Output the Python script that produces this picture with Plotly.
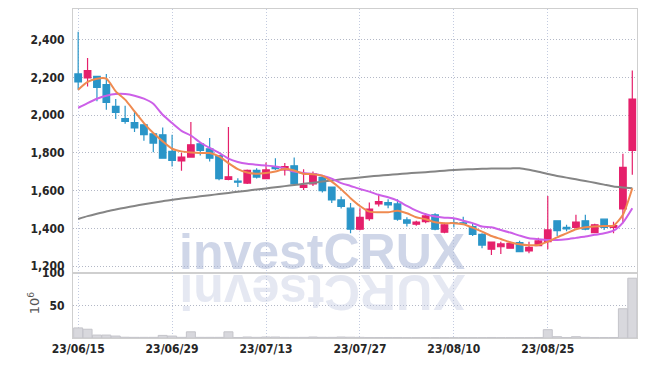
import plotly.graph_objects as go
from plotly.subplots import make_subplots

dates = [
    "2023-06-15", "2023-06-16", "2023-06-19", "2023-06-20", "2023-06-21", "2023-06-22", "2023-06-23",
    "2023-06-26", "2023-06-27", "2023-06-28", "2023-06-29", "2023-06-30",
    "2023-07-03", "2023-07-04", "2023-07-05", "2023-07-06", "2023-07-07",
    "2023-07-10", "2023-07-11", "2023-07-12", "2023-07-13", "2023-07-14",
    "2023-07-17", "2023-07-18", "2023-07-19", "2023-07-20", "2023-07-21",
    "2023-07-24", "2023-07-25", "2023-07-26", "2023-07-27", "2023-07-28", "2023-07-31",
    "2023-08-01", "2023-08-02", "2023-08-03", "2023-08-04",
    "2023-08-07", "2023-08-08", "2023-08-09", "2023-08-10", "2023-08-11",
    "2023-08-14", "2023-08-16", "2023-08-17", "2023-08-18",
    "2023-08-21", "2023-08-22", "2023-08-23", "2023-08-24", "2023-08-25",
    "2023-08-28", "2023-08-29", "2023-08-30", "2023-08-31", "2023-09-01",
    "2023-09-04", "2023-09-05", "2023-09-06", "2023-09-07",
]

opens = [2218, 2197, 2205, 2161, 2046, 1981, 1960, 1949, 1901, 1896,
         1808, 1757, 1778, 1848, 1822, 1785, 1659, 1650, 1640, 1707,
         1664, 1722, 1710, 1732, 1617, 1636, 1670, 1619, 1551, 1507,
         1396, 1452, 1530, 1537, 1530, 1445, 1422, 1436, 1472, 1380,
         1430, 1430, 1410, 1369, 1290, 1303, 1295, 1325, 1281, 1309,
         1330, 1440, 1406, 1405, 1440, 1378, 1449, 1405, 1503, 1813]
highs = [2441, 2303, 2208, 2218, 2085, 2050, 2023, 1951, 1903, 1935,
         1896, 1799, 1963, 1858, 1879, 1787, 1937, 1666, 1712, 1719,
         1749, 1772, 1746, 1776, 1714, 1701, 1678, 1622, 1569, 1534,
         1507, 1537, 1578, 1555, 1555, 1459, 1440, 1480, 1480, 1430,
         1455, 1462, 1425, 1375, 1330, 1330, 1330, 1335, 1330, 1350,
         1572, 1440, 1420, 1472, 1472, 1425, 1452, 1436, 1795, 2236]
lows = [2135, 2152, 2073, 2029, 1979, 1954, 1910, 1864, 1804, 1770,
        1728, 1705, 1776, 1786, 1755, 1655, 1655, 1619, 1635, 1665,
        1660, 1710, 1680, 1625, 1604, 1625, 1590, 1534, 1505, 1374,
        1390, 1441, 1516, 1507, 1440, 1410, 1414, 1428, 1390, 1374,
        1405, 1418, 1360, 1295, 1259, 1265, 1295, 1277, 1268, 1305,
        1290, 1360, 1385, 1400, 1390, 1375, 1392, 1374, 1428, 1684]
closes = [2176, 2236, 2147, 2067, 2014, 1967, 1932, 1896, 1852, 1772,
          1760, 1778, 1843, 1813, 1772, 1663, 1673, 1645, 1707, 1672,
          1710, 1717, 1728, 1636, 1629, 1689, 1600, 1551, 1516, 1396,
          1459, 1502, 1542, 1525, 1449, 1428, 1433, 1466, 1396, 1419,
          1426, 1426, 1369, 1312, 1327, 1318, 1321, 1277, 1300, 1334,
          1392, 1388, 1398, 1433, 1396, 1419, 1405, 1415, 1723, 2085]

ma_short = [2135, 2176, 2193, 2193, 2126, 2082, 2020, 1958, 1905, 1861,
            1822, 1808, 1802, 1799, 1799, 1781, 1746, 1714, 1696, 1689,
            1693, 1701, 1716, 1707, 1689, 1687, 1679, 1648, 1608, 1560,
            1519, 1489, 1486, 1486, 1493, 1480, 1459, 1449, 1433, 1428,
            1428, 1422, 1404, 1383, 1360, 1344, 1327, 1316, 1311, 1312,
            1330, 1353, 1374, 1396, 1406, 1410, 1413, 1415, 1472, 1613]
ma_mid = [2039, 2064, 2087, 2103, 2112, 2112, 2103, 2087, 2060, 2002,
          1958, 1917, 1892, 1855, 1826, 1800, 1770, 1752, 1742, 1737,
          1733, 1728, 1717, 1701, 1693, 1689, 1679, 1664, 1640, 1625,
          1609, 1595, 1578, 1565, 1547, 1519, 1494, 1475, 1463, 1457,
          1454, 1441, 1428, 1410, 1406, 1392, 1378, 1362, 1348, 1343,
          1339, 1339, 1343, 1350, 1357, 1366, 1374, 1388, 1431, 1507]
ma_long = [1450, 1465, 1478, 1490, 1500, 1510, 1519, 1528, 1536, 1544,
           1552, 1558, 1564, 1570, 1576, 1582, 1588, 1594, 1600, 1606,
           1612, 1618, 1624, 1630, 1636, 1642, 1648, 1654, 1660, 1665,
           1670, 1675, 1679, 1683, 1687, 1691, 1695, 1698, 1702, 1706,
           1709, 1712, 1714, 1716, 1717, 1718, 1718, 1719, 1711, 1700,
           1688, 1678, 1669, 1660, 1651, 1642, 1632, 1622, 1617, 1613]

volumes = [15.5, 13.5, 4.5, 4.5, 3, 1.2, 1, 1, 1, 4,
           3, 1, 9.5, 1, 1, 1, 9.5, 0.8, 1.5, 1,
           1.5, 1.5, 1, 1, 1, 1.5, 1, 1, 1.5, 1.2,
           1, 0.8, 0.8, 0.8, 0.8, 0.6, 0.6, 0.6, 0.6, 0.6,
           0.6, 0.6, 0.6, 0.6, 0.8, 0.6, 0.6, 0.6, 0.6, 0.8,
           12.8, 2, 0.8, 2, 1, 0.8, 0.8, 0.8, 45, 92]

tick_idx = [0, 10, 20, 30, 40, 50]
tick_text = ["23/06/15", "23/06/29", "23/07/13", "23/07/27", "23/08/10", "23/08/25"]
price_ticks = [1200, 1400, 1600, 1800, 2000, 2200, 2400]
vol_ticks = [50, 100]
vol_unit = "10<sup>6</sup>"

UP = "#e5206b"
DOWN = "#2a95c8"

fig = make_subplots(rows=2, cols=1, shared_xaxes=True, vertical_spacing=0,
                    row_heights=[0.8024, 0.1976])

fig.add_trace(go.Scatter(x=dates, y=ma_long, mode="lines", line=dict(color="#858585", width=2, shape="spline", smoothing=0.6),
                         showlegend=False, hoverinfo="skip"), row=1, col=1)
fig.add_trace(go.Scatter(x=dates, y=ma_mid, mode="lines", line=dict(color="#cc5fe8", width=2, shape="spline", smoothing=0.6),
                         showlegend=False, hoverinfo="skip"), row=1, col=1)
fig.add_trace(go.Scatter(x=dates, y=ma_short, mode="lines", line=dict(color="#ef8a50", width=2, shape="spline", smoothing=0.6),
                         showlegend=False, hoverinfo="skip"), row=1, col=1)
fig.add_trace(go.Candlestick(x=dates, open=opens, high=highs, low=lows, close=closes,
                             increasing=dict(line=dict(color=UP, width=1.2), fillcolor=UP),
                             decreasing=dict(line=dict(color=DOWN, width=1.2), fillcolor=DOWN),
                             whiskerwidth=0, showlegend=False), row=1, col=1)
fig.add_trace(go.Bar(x=dates, y=volumes, marker=dict(color="#d8d8dd", line=dict(color="#c4c4ca", width=1)),
                     showlegend=False), row=2, col=1)

tickfont = dict(family="DejaVu Sans Condensed", size=12, color="#262626", weight=700)
grid_y = "#b3b8c6"
grid_x = "#c3cbe0"
dots = "1px,2px"

# the page body has an 8px default margin, so the figure is sized to fit the window after that offset
fig.update_layout(
    width=639, height=358,
    margin=dict(l=65, r=10, t=1, b=28, autoexpand=False),
    paper_bgcolor="white", plot_bgcolor="white",
    bargap=0.04, boxgap=0.3, boxgroupgap=0,
    showlegend=False,
)
common_x = dict(type="category", range=[-0.55, 59.5], tickmode="array",
                tickvals=[dates[i] for i in tick_idx], ticktext=tick_text,
                showgrid=True, gridcolor=grid_x, griddash=dots, gridwidth=1,
                showline=True, linecolor="#cfcfcf", linewidth=1, mirror=True,
                ticks="", tickfont=tickfont, rangeslider=dict(visible=False), zeroline=False,
                automargin=False)
fig.update_xaxes(**common_x)
fig.update_xaxes(showticklabels=False, row=1, col=1)

fig.update_yaxes(range=[1164, 2562], tickmode="array", tickvals=price_ticks, tickformat=",d",
                 showgrid=True, gridcolor=grid_y, griddash=dots, gridwidth=1,
                 showline=True, linecolor="#cfcfcf", mirror=True, ticks="", ticklabelstandoff=5,
                 tickfont=tickfont, zeroline=False, automargin=False, row=1, col=1)
fig.update_yaxes(range=[0, 100], tickmode="array", tickvals=vol_ticks,
                 showgrid=True, gridcolor=grid_y, griddash=dots, gridwidth=1,
                 showline=True, linecolor="#cfcfcf", mirror=True, ticks="", ticklabelstandoff=5,
                 tickfont=tickfont, zeroline=False, automargin=False,
                 row=2, col=1)

# volume unit label
fig.add_annotation(text=vol_unit, xref="paper", yref="paper", x=-0.069, y=0.106,
                   xanchor="center", yanchor="middle", showarrow=False, textangle=-90,
                   font=dict(family="DejaVu Sans", size=13, color="#555"))

# watermark
fig.add_annotation(text="investCRUX", xref="paper", yref="paper", x=0.442, y=0.262,
                   xanchor="center", yanchor="middle", showarrow=False,
                   font=dict(family="Liberation Sans", size=50, color="rgba(168,180,214,0.55)", weight="bold"))
fig.add_annotation(text="XURCtsevni", xref="paper", yref="paper", x=0.442, y=0.138,
                   xanchor="center", yanchor="middle", showarrow=False, textangle=180,
                   font=dict(family="Liberation Sans", size=50, color="rgba(190,198,222,0.4)", weight="bold"))

fig.write_html("out.html")
